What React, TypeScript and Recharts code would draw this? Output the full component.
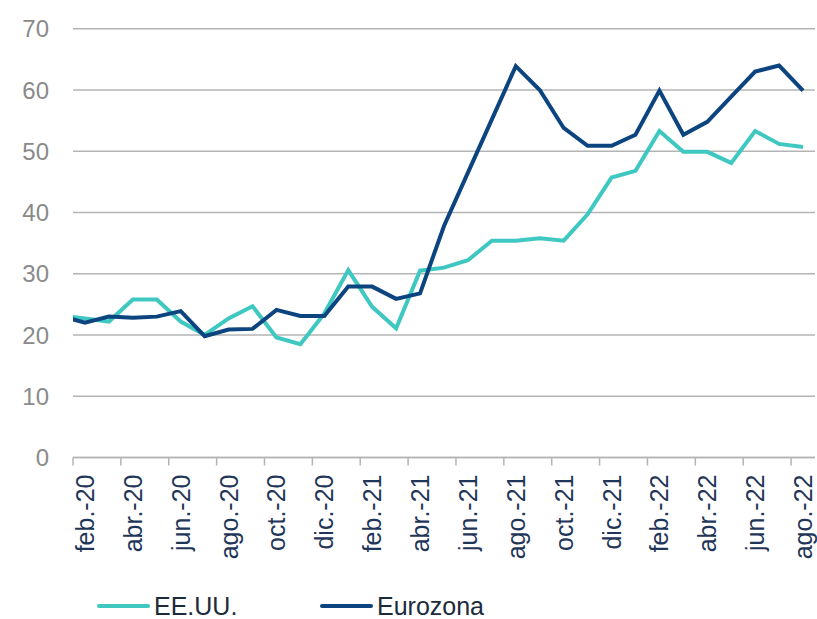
import React from 'react';
import { LineChart, Line, XAxis, YAxis, CartesianGrid, Legend } from 'recharts';

// months (ene.-20 sits just left of the plot, only its segment shows)
const months = [
  'ene.-20', 'feb.-20', 'mar.-20', 'abr.-20', 'may.-20', 'jun.-20', 'jul.-20', 'ago.-20',
  'sep.-20', 'oct.-20', 'nov.-20', 'dic.-20', 'ene.-21', 'feb.-21', 'mar.-21', 'abr.-21',
  'may.-21', 'jun.-21', 'jul.-21', 'ago.-21', 'sep.-21', 'oct.-21', 'nov.-21', 'dic.-21',
  'ene.-22', 'feb.-22', 'mar.-22', 'abr.-22', 'may.-22', 'jun.-22', 'jul.-22', 'ago.-22',
];

const eeuu = [
  23.2, 22.7, 22.2, 25.8, 25.8, 22.2, 20.0, 22.7, 24.7, 19.6, 18.5, 23.5, 30.6, 24.6, 21.1, 30.5,
  31.0, 32.2, 35.4, 35.4, 35.8, 35.4, 39.7, 45.7, 46.8, 53.3, 49.9, 49.9, 48.1, 53.3, 51.2, 50.7,
];

const eurozona = [
  23.1, 22.0, 23.0, 22.8, 23.0, 23.9, 19.8, 20.9, 21.0, 24.1, 23.1, 23.1, 27.9, 27.9, 25.9, 26.8,
  37.8, 46.5, 55.2, 63.9, 60.0, 53.8, 50.9, 50.9, 52.7, 59.9, 52.7, 54.8, 58.9, 63.0, 64.0, 59.9,
];

const yTicks = [0, 10, 20, 30, 40, 50, 60, 70];
// category boundaries every two months, starting at feb.-20
const xTicks = months.slice(1).map((_, i) => i + 0.5).filter((_, i) => i % 2 === 0);

const data = months.map((m, i) => ({ idx: i, month: m, eeuu: eeuu[i], eurozona: eurozona[i] }));

const TEAL = '#3ec8c1';
const NAVY = '#0b447f';
const FONT = '"Liberation Sans", Arial, sans-serif';

const W = 817;
const H = 619;
const PLOT_LEFT = 73;
const PLOT_RIGHT = 2;
const CAT_W = (W - PLOT_LEFT - PLOT_RIGHT) / 31;

const MonthTick = ({ x, y, payload }: any) => {
  const idx = Math.round(payload.value + 0.5);
  const cx = x + CAT_W / 2;
  return (
    <text
      x={cx}
      y={y}
      transform={`rotate(-90, ${cx}, ${y})`}
      textAnchor="end"
      dominantBaseline="central"
      fill="#1f3658"
      fontSize={25}
      fontFamily={FONT}
    >
      {months[idx]}
    </text>
  );
};

const LegendContent = () => {
  const items = [
    { name: 'EE.UU.', color: TEAL, left: 97 },
    { name: 'Eurozona', color: NAVY, left: 320 },
  ];
  return (
    <div style={{ position: 'relative', height: 30, width: W }}>
      {items.map((it) => (
        <div
          key={it.name}
          style={{ position: 'absolute', left: it.left, top: 0, display: 'flex', alignItems: 'center' }}
        >
          <span style={{ display: 'inline-block', width: 53, height: 4, borderRadius: 2, background: it.color }} />
          <span style={{ marginLeft: 4, fontSize: 25, fontFamily: FONT, color: '#1c2a3c', lineHeight: '30px' }}>
            {it.name}
          </span>
        </div>
      ))}
    </div>
  );
};

export default function App() {
  return (
    <div style={{ position: 'absolute', left: 0, top: 0, width: W, height: H, background: '#fff' }}>
      <LineChart width={W} height={H} data={data} margin={{ top: 28.75, right: PLOT_RIGHT, left: 13, bottom: 11.5 }}>
        <CartesianGrid vertical={false} stroke="#b4b4b4" strokeWidth={1.3} />
        <XAxis
          dataKey="idx"
          type="number"
          domain={[0.5, 31.5]}
          allowDataOverflow
          ticks={xTicks}
          interval={0}
          height={120}
          tickSize={8}
          tickMargin={9}
          axisLine={{ stroke: '#b4b4b4', strokeWidth: 1.5 }}
          tickLine={{ stroke: '#b4b4b4', strokeWidth: 1.5 }}
          tick={<MonthTick />}
        />
        <YAxis
          domain={[0, 70]}
          ticks={yTicks}
          width={60}
          axisLine={false}
          tickLine={false}
          tickSize={0}
          tickMargin={24}
          tick={{ fill: '#8a8a8a', fontSize: 24, fontFamily: FONT }}
        />
        <Legend
          verticalAlign="bottom"
          wrapperStyle={{ position: 'absolute', left: 0, top: 591, width: W, height: 30 }}
          content={<LegendContent />}
        />
        <Line
          type="linear"
          dataKey="eeuu"
          name="EE.UU."
          stroke={TEAL}
          strokeWidth={4}
          dot={false}
          isAnimationActive={false}
        />
        <Line
          type="linear"
          dataKey="eurozona"
          name="Eurozona"
          stroke={NAVY}
          strokeWidth={4}
          dot={false}
          isAnimationActive={false}
        />
      </LineChart>
    </div>
  );
}
